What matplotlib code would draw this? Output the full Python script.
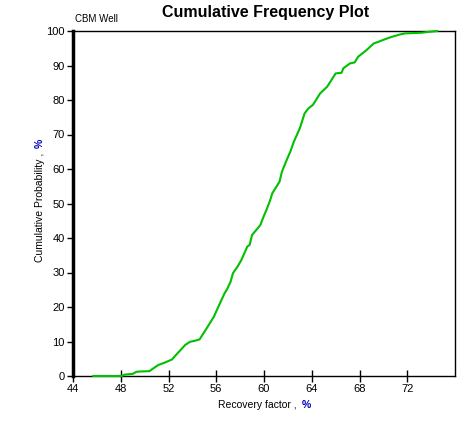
import matplotlib
matplotlib.use("Agg")
import matplotlib.pyplot as plt

plt.rcParams['font.family'] = ['Liberation Sans', 'DejaVu Sans']

# Recovery factor (%) and cumulative probability (%)
recovery = [45.7, 48.1, 48.3, 49.0, 49.3, 49.6, 50.4, 50.6, 51.15, 51.7, 52.3, 52.6,
            53.0, 53.4, 53.8, 54.3, 54.6, 55.1, 55.5, 55.8, 56.3, 56.7, 56.9, 57.2,
            57.4, 57.8, 58.1, 58.6, 58.8, 59.0, 59.4, 59.7, 60.0, 60.2, 60.5, 60.7,
            60.9, 61.3, 61.5, 61.9, 62.2, 62.5, 63.0, 63.4, 63.7, 64.1, 64.7, 65.3,
            66.0, 66.5, 66.65, 67.2, 67.6, 67.9, 68.5, 69.2, 69.6, 70.2, 70.7, 71.4,
            71.8, 73.2, 73.9, 74.5]
cum_prob = [0.0, 0.0, 0.4, 0.6, 1.2, 1.3, 1.4, 1.9, 3.2, 3.9, 4.8, 6.0,
            7.5, 9.0, 9.9, 10.3, 10.6, 13.3, 15.5, 17.2, 21.0, 24.0, 25.1, 27.3,
            29.8, 31.8, 33.6, 37.5, 38.0, 40.9, 42.5, 43.8, 46.5, 48.1, 50.8, 53.0,
            54.1, 56.3, 59.2, 62.6, 65.0, 67.9, 71.8, 76.1, 77.5, 78.6, 81.9, 83.9,
            87.7, 87.9, 89.2, 90.6, 90.9, 92.6, 94.2, 96.4, 96.9, 97.7, 98.3, 99.0,
            99.3, 99.5, 99.8, 100.0]

x_ticks = [44, 48, 52, 56, 60, 64, 68, 72]
y_ticks = [0, 10, 20, 30, 40, 50, 60, 70, 80, 90, 100]

W, H = 466, 424
fig = plt.figure(figsize=(W / 100, H / 100), dpi=100)
ax = fig.add_axes([73 / W, (H - 376) / H, (455 - 73) / W, (376 - 31) / H])

ax.plot(recovery, cum_prob, color='#00c000', lw=1.5, clip_on=False, zorder=3)

ax.set_xlim(44, 76)
ax.set_ylim(0, 100)
ax.set_xticks(x_ticks)
ax.set_yticks(y_ticks)
ax.tick_params(axis='x', direction='inout', length=9, width=1, labelsize=8, pad=1)
ax.tick_params(axis='y', direction='out', length=4, width=1, labelsize=8, pad=2)
for s in ['top', 'right', 'bottom']:
    ax.spines[s].set_linewidth(1)
ax.spines['left'].set_linewidth(2.5)

fig.text(266 / W, 1 - 12 / H, 'Cumulative Frequency Plot', ha='center', va='center',
         fontsize=11.5, fontweight='bold')
fig.text(75 / W, 1 - 19 / H, 'CBM Well', ha='left', va='center', fontsize=7)

fig.text(300 / W, 1 - 405 / H, 'Recovery factor , ', ha='right', va='center', fontsize=7.5)
fig.text(302 / W, 1 - 405 / H, '%', ha='left', va='center', fontsize=7.5,
         color='#0000c0', fontweight='bold')

fig.text(40 / W, 1 - 150 / H, 'Cumulative Probability , ', ha='center', va='top',
         rotation=90, fontsize=7.5)
fig.text(40 / W, 1 - 148 / H, '%', ha='center', va='bottom', rotation=90,
         fontsize=7.5, color='#0000c0', fontweight='bold')

fig.savefig('out.png', dpi=100)
